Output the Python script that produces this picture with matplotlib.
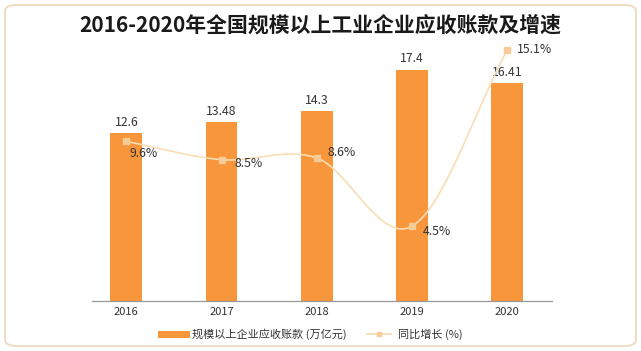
import matplotlib
matplotlib.use("Agg")
import matplotlib.pyplot as plt
import numpy as np
from matplotlib.patches import FancyBboxPatch
from matplotlib.lines import Line2D

plt.rcParams['font.family'] = ['Noto Sans CJK SC', 'DejaVu Sans']

years = ['2016', '2017', '2018', '2019', '2020']
receivables = [12.6, 13.48, 14.3, 17.4, 16.41]
growth = [9.6, 8.5, 8.6, 4.5, 15.1]
growth_labels = ['9.6%', '8.5%', '8.6%', '4.5%', '15.1%']
label_offsets = [(2, -9), (9, -3), (8, 4), (8, -4), (7, 0)]  # points

title = '2016-2020年全国规模以上工业企业应收账款及增速'
bar_name = '规模以上企业应收账款 (万亿元)'
line_name = '同比增长 (%)'

bar_color = '#F7963A'
line_color = '#F9DDB5'
marker_color = '#F6CB95'
text_color = '#333333'

W, H = 641, 351
fig = plt.figure(figsize=(W / 100, H / 100), dpi=100)
fig.patch.set_facecolor('white')

# rounded frame
frame = FancyBboxPatch((5 / W, 5 / H), 631 / W, 341 / H,
                       boxstyle="round,pad=0,rounding_size=0.018",
                       transform=fig.transFigure, facecolor='none',
                       edgecolor='#EEDDC2', linewidth=1.4)
fig.patches.append(frame)

ax = fig.add_axes([92 / W, (H - 301) / H, 460 / W, 266 / H])
x = np.arange(len(years))
ax.bar(x, receivables, width=0.335, color=bar_color, zorder=2)
ax.set_ylim(0, 20)
ax.set_xlim(-0.36, 4.47)
for xi, v in zip(x, receivables):
    ax.annotate(f'{v:g}', (xi, v), xytext=(0, 3), textcoords='offset points',
                ha='center', va='bottom', fontsize=8.8, color=text_color)

ax2 = ax.twinx()
ax2.set_ylim(0, 16)
ax2.axis('off')

ax.set_xticks(x)
ax.set_xticklabels(years, fontsize=8, color=text_color)
ax.tick_params(axis='x', length=0, pad=4)
ax.set_yticks([])
ax.tick_params(axis='y', left=False, right=False, labelleft=False, labelright=False)
for s in ['top', 'right', 'left']:
    ax.spines[s].set_visible(False)
ax.spines['bottom'].set_color('#999999')
ax.spines['bottom'].set_linewidth(0.9)

# smooth curve (Catmull-Rom style) through the growth points
g = np.array(growth, dtype=float)
n = len(g)
m = np.zeros(n)
m[0] = g[1] - g[0]
m[-1] = g[-1] - g[-2]
for i in range(1, n - 1):
    m[i] = (g[i + 1] - g[i - 1]) / 2
xs, ys = [], []
for i in range(n - 1):
    t = np.linspace(0, 1, 40)
    h00 = 2 * t**3 - 3 * t**2 + 1
    h10 = t**3 - 2 * t**2 + t
    h01 = -2 * t**3 + 3 * t**2
    h11 = t**3 - t**2
    xs.extend(i + t)
    ys.extend(h00 * g[i] + h10 * m[i] + h01 * g[i + 1] + h11 * m[i + 1])
ax2.plot(xs, ys, color=line_color, lw=1.2, zorder=3)
ax2.plot(x, g, linestyle='none', marker='s', markersize=4,
         color=marker_color, zorder=4)
for xi, v, lab, off in zip(x, g, growth_labels, label_offsets):
    ax2.annotate(lab, (xi, v), xytext=off, textcoords='offset points',
                 ha='left', va='center', fontsize=8.8, color=text_color)

fig.text(0.5, (H - 25) / H, title, ha='center', va='center',
         fontsize=15, fontweight='bold', color='#1a1a1a')

handles = [Line2D([0], [0], color=bar_color, lw=5),
           Line2D([0], [0], color=line_color, lw=1.3, marker='s',
                  markersize=3.5, markerfacecolor=marker_color,
                  markeredgecolor=marker_color)]
fig.legend(handles, [bar_name, line_name], loc='center',
           bbox_to_anchor=(312 / W, (H - 334) / H), ncol=2, frameon=False,
           fontsize=8, handlelength=2.2, columnspacing=1.8, handletextpad=0.6,
           labelcolor=text_color)

fig.savefig('out.png', dpi=100)
